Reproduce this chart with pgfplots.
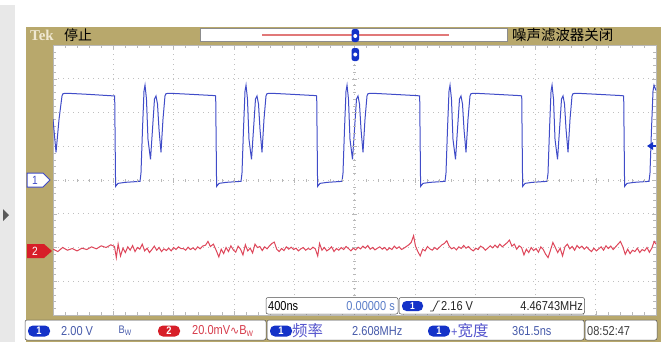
\documentclass[border=0pt]{standalone}
\usepackage{pgfplots}
\pgfplotsset{compat=1.18}
\usepackage{fontspec}
\setmainfont{Liberation Sans}
\newfontfamily\osc[FakeStretch=0.85]{Liberation Sans}
\newfontfamily\cjk{Noto Sans CJK SC}
\newfontfamily\dejavu{DejaVu Sans}
\newfontfamily\tekfont{Liberation Serif}
\definecolor{khaki}{RGB}{184,168,108}
\definecolor{ch1}{RGB}{64,76,200}
\definecolor{ch2}{RGB}{222,70,90}
\definecolor{pillblue}{RGB}{20,50,200}
\definecolor{pillred}{RGB}{215,30,40}
\definecolor{mtext}{RGB}{70,90,170}
\definecolor{ltext}{RGB}{90,125,200}
\definecolor{cjkblue}{RGB}{85,85,205}
\definecolor{rtext}{RGB}{215,60,75}
\definecolor{barred}{RGB}{225,120,120}
\definecolor{tekwhite}{RGB}{240,232,210}
\begin{document}
\begin{tikzpicture}[x=1bp,y=1bp]
\useasboundingbox (0,0) rectangle (662,342);
\fill[white] (0,0) rectangle (662,342);
\fill[black!9] (0,0) rectangle (15,337);
\fill[black!65] (3,133) -- (9,127) -- (3,121) -- cycle;
\fill[khaki] (26,0) rectangle (661,315);
% top bar
\fill[white] (200,300.5) rectangle (507,314);
\draw[black!45, line width=0.4bp] (200,300.5) rectangle (507,314);
\draw[barred, line width=2bp] (262,307) -- (449,307);
\node[text=tekwhite, font=\tekfont\bfseries\fontsize{15}{15}\selectfont, inner sep=0] at (42,306.5) {Tek};
\node[font=\cjk\fontsize{14}{14}\selectfont, inner sep=0] at (78,306.5) {停止};
\node[font=\cjk\fontsize{14.5}{14.5}\selectfont, inner sep=0, anchor=west] at (512,306.5) {噪声滤波器关闭};

\begin{axis}[at={(53bp,27bp)}, anchor=south west, width=603bp, height=270bp, scale only axis,
  xmin=0, xmax=10, ymin=-4, ymax=4,
  xtick={0,...,10}, ytick={-4,...,4}, minor x tick num=4, minor y tick num=4,
  xticklabels={}, yticklabels={},
  grid=major, major grid style={draw=gray!50, dash pattern=on 1bp off 4bp, line width=0.6pt},
  tick style={draw=gray!55, line width=0.4pt}, major tick length=4bp, minor tick length=3bp,
  axis line style={draw=gray!55}, axis background/.style={fill=white}]
\addplot[ch1, line width=1bp] table {
0.000 1.80
0.050 0.82
0.100 1.80
0.149 2.49
0.166 2.56
0.232 2.57
0.564 2.54
1.023 2.49
1.038 -0.19
1.078 -0.10
1.194 -0.07
1.443 -0.04
1.459 0.20
1.484 1.50
1.509 2.63
1.526 2.81
1.550 2.40
1.575 1.21
1.617 0.61
1.650 1.50
1.683 2.40
1.708 2.49
1.733 2.25
1.758 1.50
1.791 0.82
1.824 1.80
1.857 2.49
1.874 2.56
1.940 2.57
2.272 2.54
2.686 2.50
2.698 2.49
2.713 -0.19
2.753 -0.10
2.869 -0.07
3.118 -0.04
3.134 0.20
3.159 1.50
3.184 2.63
3.201 2.81
3.225 2.40
3.250 1.21
3.292 0.61
3.325 1.50
3.358 2.40
3.383 2.49
3.408 2.25
3.433 1.50
3.466 0.82
3.499 1.80
3.532 2.49
3.549 2.56
3.615 2.57
3.947 2.54
4.361 2.50
4.373 2.49
4.388 -0.19
4.428 -0.10
4.544 -0.07
4.793 -0.04
4.809 0.20
4.834 1.50
4.859 2.63
4.876 2.81
4.900 2.40
4.925 1.21
4.967 0.61
5.000 1.50
5.033 2.40
5.058 2.49
5.083 2.25
5.108 1.50
5.141 0.82
5.174 1.80
5.207 2.49
5.224 2.56
5.290 2.57
5.622 2.54
6.036 2.50
6.081 2.49
6.096 -0.19
6.136 -0.10
6.252 -0.07
6.501 -0.04
6.517 0.20
6.542 1.50
6.567 2.63
6.584 2.81
6.608 2.40
6.633 1.21
6.675 0.61
6.708 1.50
6.741 2.40
6.766 2.49
6.791 2.25
6.816 1.50
6.849 0.82
6.882 1.80
6.915 2.49
6.932 2.56
6.998 2.57
7.330 2.54
7.744 2.50
7.773 2.49
7.788 -0.19
7.828 -0.10
7.944 -0.07
8.193 -0.04
8.209 0.20
8.234 1.50
8.259 2.63
8.276 2.81
8.300 2.40
8.325 1.21
8.367 0.61
8.400 1.50
8.433 2.40
8.458 2.49
8.483 2.25
8.508 1.50
8.541 0.82
8.574 1.80
8.607 2.49
8.624 2.56
8.690 2.57
9.022 2.54
9.436 2.50
9.464 2.49
9.479 -0.19
9.519 -0.10
9.635 -0.07
9.884 -0.04
9.900 0.20
9.925 1.50
9.950 2.63
9.967 2.81
10.00 2.65
};
\addplot[ch2, line width=1bp] table {
0.00 -2.05
0.08 -2.12
0.16 -2.00
0.24 -2.08
0.32 -2.03
0.40 -2.10
0.48 -2.02
0.56 -2.06
0.64 -1.98
0.72 -2.04
0.80 -1.95
0.88 -2.00
0.96 -1.92
1.02 -1.97
1.05 -2.30
1.08 -1.90
1.12 -2.25
1.16 -2.02
1.20 -2.15
1.24 -1.98
1.28 -2.08
1.32 -1.94
1.36 -2.12
1.40 -2.00
1.44 -2.05
1.48 -1.90
1.52 -2.10
1.56 -2.02
1.60 -2.15
1.64 -2.06
1.68 -1.96
1.72 -2.08
1.76 -2.00
1.80 -2.12
1.84 -2.04
1.88 -2.09
1.92 -2.02
1.96 -2.10
2.00 -2.00
2.04 -2.06
2.08 -1.98
2.12 -2.03
2.16 -2.03
2.20 -2.08
2.24 -1.99
2.28 -2.06
2.32 -2.01
2.36 -2.07
2.40 -1.98
2.44 -2.04
2.48 -1.96
2.53 -1.93
2.57 -1.82
2.61 -1.97
2.66 -1.90
2.71 -2.10
2.75 -2.28
2.79 -2.05
2.83 -2.18
2.87 -2.00
2.91 -2.12
2.95 -1.95
2.99 -2.07
3.03 -2.14
3.07 -1.96
3.11 -2.05
3.15 -2.22
3.19 -1.92
3.23 -2.10
3.27 -2.02
3.31 -2.16
3.35 -1.90
3.39 -2.00
3.43 -1.97
3.47 -2.09
3.51 -1.98
3.55 -2.04
3.59 -1.95
3.63 -1.88
3.67 -1.84
3.71 -2.05
3.75 -2.12
3.79 -2.03
3.83 -2.09
3.87 -1.98
3.91 -2.05
3.95 -1.99
3.99 -2.06
4.03 -2.02
4.07 -2.10
4.11 -2.04
4.15 -2.00
4.19 -2.08
4.23 -2.03
4.27 -2.06
4.31 -1.99
4.35 -2.04
4.39 -2.25
4.42 -1.88
4.46 -2.08
4.50 -2.00
4.54 -2.10
4.58 -2.05
4.62 -1.98
4.66 -2.12
4.70 -2.03
4.74 -2.08
4.78 -2.00
4.82 -2.06
4.86 -1.97
4.90 -2.03
4.94 -2.10
4.98 -2.02
5.02 -2.07
5.06 -1.99
5.10 -2.04
5.14 -1.96
5.18 -2.02
5.22 -1.94
5.26 -2.05
5.30 -2.00
5.34 -2.07
5.38 -2.02
5.42 -1.98
5.46 -2.05
5.50 -2.00
5.54 -2.08
5.58 -2.01
5.62 -2.06
5.66 -1.96
5.70 -2.03
5.74 -1.98
5.78 -2.06
5.82 -2.02
5.86 -1.97
5.90 -1.92
5.94 -1.85
5.98 -1.65
6.01 -1.95
6.05 -2.12
6.09 -2.25
6.13 -2.05
6.17 -2.10
6.21 -1.97
6.25 -2.04
6.29 -2.08
6.33 -2.00
6.37 -2.06
6.41 -1.99
6.45 -1.92
6.49 -1.88
6.53 -1.80
6.57 -1.96
6.61 -2.04
6.65 -2.00
6.69 -2.07
6.73 -1.98
6.77 -2.03
6.81 -1.94
6.85 -2.02
6.89 -1.97
6.93 -2.05
6.97 -2.10
7.01 -2.02
7.05 -2.06
7.09 -1.96
7.13 -2.00
7.17 -2.08
7.21 -2.02
7.25 -1.95
7.29 -2.01
7.33 -1.93
7.37 -2.00
7.41 -1.90
7.45 -1.98
7.49 -1.92
7.53 -1.86
7.57 -1.78
7.61 -1.96
7.65 -1.90
7.69 -2.05
7.73 -1.95
7.77 -2.00
7.81 -2.22
7.85 -2.05
7.89 -2.15
7.93 -2.00
7.97 -2.09
8.01 -2.03
8.05 -2.14
8.09 -1.98
8.13 -2.06
8.17 -2.20
8.21 -2.30
8.25 -2.08
8.29 -1.85
8.33 -2.00
8.37 -2.15
8.41 -2.02
8.45 -2.25
8.49 -1.98
8.53 -1.90
8.57 -2.04
8.61 -1.97
8.65 -2.08
8.69 -1.94
8.73 -2.02
8.77 -1.96
8.81 -2.05
8.85 -1.98
8.89 -2.06
8.93 -2.12
8.97 -2.02
9.01 -2.10
9.05 -2.04
9.09 -1.98
9.13 -2.08
9.17 -1.95
9.21 -2.03
9.25 -1.96
9.29 -2.06
9.33 -1.98
9.37 -1.90
9.41 -1.82
9.45 -1.98
9.49 -2.20
9.53 -2.05
9.57 -2.18
9.61 -2.08
9.65 -2.12
9.69 -2.02
9.73 -2.15
9.77 -2.06
9.81 -2.10
9.85 -2.00
9.89 -2.14
9.93 -2.02
9.97 -1.82
10.0 -1.90
};
\end{axis}
% centre cross ticks of the graticule
\begin{axis}[at={(53bp,27bp)}, anchor=south west, width=603bp, height=270bp, scale only axis,
  xmin=-5, xmax=5, ymin=-4, ymax=4, axis lines=middle, axis line style={draw=none},
  xtick={-5,...,5}, ytick={-4,...,4}, minor x tick num=4, minor y tick num=4,
  xticklabels={}, yticklabels={}, tick align=center,
  tick style={draw=gray!55, line width=0.4pt}, major tick length=5bp, minor tick length=3bp]
\end{axis}

% channel markers
\draw[ch1, fill=white, line width=1bp] (27,155) -- (43,155) -- (50,162) -- (43,169) -- (27,169) -- cycle;
\node[text=ch1, font=\osc\fontsize{12}{12}\selectfont, inner sep=0] at (35,162) {1};
\fill[pillred] (27,84) -- (44,84) -- (52,91) -- (44,98) -- (27,98) -- cycle;
\node[text=white, font=\osc\fontsize{12}{12}\selectfont, inner sep=0] at (35,91) {2};
\fill[pillblue] (647,196) -- (653,200) -- (653,192) -- cycle;
\draw[pillblue, line width=1.2bp] (652,196) -- (656,196);
% trigger position icons
\fill[pillblue, rounded corners=2.5bp] (351.5,300) rectangle (359,313);
\fill[white] (355.25,306) circle (2);
\fill[pillblue, rounded corners=2.5bp] (351.5,281) rectangle (359,294);
\fill[white] (355.25,287.5) circle (2);

% measurement row 1
\draw[fill=white, draw=black!70, line width=0.5bp, rounded corners=2bp] (266,28) rectangle (398,44.5);
\node[anchor=west, font=\osc\fontsize{13}{13}\selectfont, inner sep=0] at (268,36) {400ns};
\node[anchor=east, text=ltext, font=\osc\fontsize{13}{13}\selectfont, inner sep=0] at (395,36) {0.00000 s};
\draw[fill=white, draw=black!70, line width=0.5bp, rounded corners=2bp] (399,28) rectangle (584.5,44.5);
\node[fill=pillblue, text=white, rounded corners=4.5bp, minimum width=21bp, minimum height=10bp, inner sep=0, font=\osc\bfseries\fontsize{10}{10}\selectfont] at (412.5,36) {1};
\draw[black!80, line width=0.8bp] (430,31) -- (433,31) -- (438,41) -- (440,41);
\node[anchor=west, text=black!85, font=\osc\fontsize{13}{13}\selectfont, inner sep=0] at (441,36) {2.16 V};
\node[anchor=east, text=black!85, font=\osc\fontsize{13}{13}\selectfont, inner sep=0] at (583,36) {4.46743MHz};

% measurement row 2
\draw[fill=white, draw=black!70, line width=0.5bp, rounded corners=2bp] (25,2) rectangle (266,22);
\node[fill=pillblue, text=white, rounded corners=5bp, minimum width=22bp, minimum height=11bp, inner sep=0, font=\osc\bfseries\fontsize{11}{11}\selectfont] at (39,11) {1};
\node[anchor=west, text=mtext, font=\osc\fontsize{13}{13}\selectfont, inner sep=0] at (61,11) {2.00 V};
\node[text=mtext, font=\osc\fontsize{11}{11}\selectfont, inner sep=0] at (125,11) {B\raisebox{-2bp}{\fontsize{8}{8}\selectfont W}};
\node[fill=pillred, text=white, rounded corners=5bp, minimum width=22bp, minimum height=11bp, inner sep=0, font=\osc\bfseries\fontsize{11}{11}\selectfont] at (169,11) {2};
\node[anchor=west, text=rtext, font=\osc\fontsize{13}{13}\selectfont, inner sep=0] at (192,11) {20.0mV{\dejavu\fontsize{11}{11}\selectfont ∿}B\raisebox{-2bp}{\fontsize{8}{8}\selectfont W}};
\draw[fill=white, draw=black!70, line width=0.5bp, rounded corners=2bp] (267,2) rectangle (584,22);
\node[fill=pillblue, text=white, rounded corners=5bp, minimum width=22bp, minimum height=11bp, inner sep=0, font=\osc\bfseries\fontsize{11}{11}\selectfont] at (281,11) {1};
\node[anchor=west, text=cjkblue, font=\cjk\fontsize{15.5}{15.5}\selectfont, inner sep=0] at (292,11) {频率};
\node[anchor=west, text=mtext, font=\osc\fontsize{13}{13}\selectfont, inner sep=0] at (352,11) {2.608MHz};
\node[fill=pillblue, text=white, rounded corners=5bp, minimum width=22bp, minimum height=11bp, inner sep=0, font=\osc\bfseries\fontsize{11}{11}\selectfont] at (439,11) {1};
\node[anchor=west, text=cjkblue, font=\osc\fontsize{13}{13}\selectfont, inner sep=0] at (451,11) {+{\cjk\fontsize{15.5}{15.5}\selectfont 宽度}};
\node[anchor=west, text=mtext, font=\osc\fontsize{13}{13}\selectfont, inner sep=0] at (512,11) {361.5ns};
\draw[fill=white, draw=black!70, line width=0.5bp, rounded corners=2bp] (585,2) rectangle (657,22);
\node[anchor=west, text=black!75, font=\osc\fontsize{13}{13}\selectfont, inner sep=0] at (587,11) {08:52:47};
\end{tikzpicture}
\end{document}
